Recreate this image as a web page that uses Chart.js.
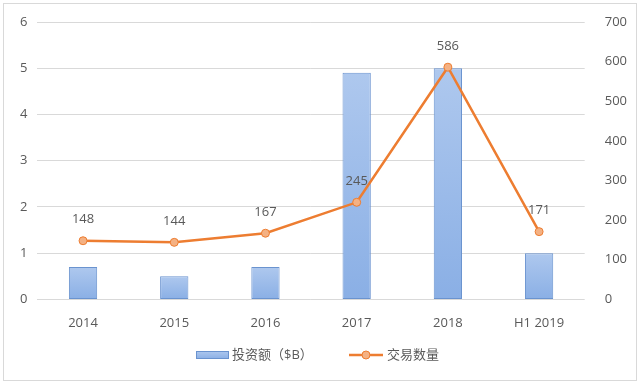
<!DOCTYPE html>
<html>
<head>
<meta charset="utf-8">
<script src="https://cdn.jsdelivr.net/npm/chart.js@4/dist/chart.umd.min.js"></script>
<style>
    body { margin: 0; background: #fff; }
    #wrap { width: 640px; height: 385px; position: relative; }
</style>
</head>
<body>
<div id="wrap"><canvas id="dealChart" width="640" height="385"></canvas></div>
<script>
const years = ['2014', '2015', '2016', '2017', '2018', 'H1 2019'];
const investment = [0.7, 0.5, 0.7, 4.9, 5.0, 1.0];   // 投资额 ($B)
const dealCount = [148, 144, 167, 245, 586, 171];     // 交易数量

const FONT = '"Open Sans", "Noto Sans CJK SC", sans-serif';
const GREY = '#595959';
const ORANGE = '#ED7D31';
const BAR_EDGE = '#6A93CF';

function barGradient(ctx, top, bottom) {
    const g = ctx.createLinearGradient(0, top, 0, bottom);
    g.addColorStop(0, '#AEC8EE');
    g.addColorStop(1, '#8AAFE5');
    return g;
}

// value labels above the line points + frame + legend
const extrasPlugin = {
    id: 'extras',
    afterDatasetsDraw(chart) {
        const ctx = chart.ctx;
        const meta = chart.getDatasetMeta(1);
        ctx.save();
        ctx.font = '13px ' + FONT;
        ctx.fillStyle = GREY;
        ctx.textAlign = 'center';
        ctx.textBaseline = 'middle';
        meta.data.forEach((pt, i) => {
            ctx.fillText(dealCount[i], pt.x, pt.y - 21);
        });
        ctx.restore();
    },
    afterDraw(chart) {
        const ctx = chart.ctx;
        ctx.save();
        ctx.strokeStyle = '#D9D9D9';
        ctx.lineWidth = 1;
        ctx.strokeRect(3.5, 3.5, 633, 377);

        // legend
        ctx.font = '13px ' + FONT;
        ctx.textBaseline = 'middle';
        const y = 355;
        let x = 196;
        ctx.fillStyle = barGradient(ctx, y - 4, y + 4);
        ctx.fillRect(x, y - 4, 33, 8);
        ctx.strokeStyle = BAR_EDGE;
        ctx.strokeRect(x + 0.5, y - 3.5, 32, 7);
        ctx.fillStyle = GREY;
        ctx.fillText('投资额（$B）', x + 36, y);

        x = 349;
        ctx.strokeStyle = ORANGE;
        ctx.lineWidth = 2.5;
        ctx.beginPath();
        ctx.moveTo(x, y);
        ctx.lineTo(x + 34, y);
        ctx.stroke();
        ctx.beginPath();
        ctx.arc(x + 17, y, 4, 0, Math.PI * 2);
        ctx.fillStyle = '#F4B183';
        ctx.fill();
        ctx.lineWidth = 1;
        ctx.stroke();
        ctx.fillStyle = GREY;
        ctx.fillText('交易数量', x + 38, y);
        ctx.restore();
    }
};

const ctx = document.getElementById('dealChart').getContext('2d');
new Chart(ctx, {
    data: {
        labels: years,
        datasets: [
            {
                type: 'bar',
                label: '投资额（$B）',
                data: investment,
                yAxisID: 'y',
                // each bar gets its own light-to-dark gradient
                backgroundColor: (c) => {
                    const scale = c.chart.scales.y;
                    if (!scale || c.raw === undefined) return '#9DBAE8';
                    const top = scale.getPixelForValue(c.raw);
                    const bottom = scale.getPixelForValue(0);
                    if (!isFinite(top) || !isFinite(bottom) || top === bottom) return '#9DBAE8';
                    return barGradient(c.chart.ctx, top, bottom);
                },
                borderColor: BAR_EDGE,
                borderWidth: 1,
                borderSkipped: false,
                categoryPercentage: 1,
                barPercentage: 0.31,
                order: 1
            },
            {
                type: 'line',
                label: '交易数量',
                data: dealCount,
                yAxisID: 'y1',
                borderColor: ORANGE,
                borderWidth: 2.5,
                pointRadius: 4,
                pointBackgroundColor: '#F4B183',
                pointBorderColor: ORANGE,
                pointBorderWidth: 1,
                tension: 0,
                order: 0
            }
        ]
    },
    options: {
        responsive: false,
        animation: false,
        layout: { padding: { left: 10, right: 1, top: 22, bottom: 46 } },
        plugins: {
            legend: { display: false },
            tooltip: { enabled: false }
        },
        scales: {
            x: {
                grid: { display: false },
                border: { display: false },
                ticks: { color: GREY, font: { size: 13, family: FONT }, padding: 8 }
            },
            y: {
                position: 'left',
                min: 0, max: 6,
                ticks: { stepSize: 1, color: GREY, font: { size: 13, family: FONT }, padding: 10 },
                grid: { color: '#D9D9D9', drawTicks: false },
                border: { display: false }
            },
            y1: {
                position: 'right',
                min: 0, max: 700,
                ticks: { stepSize: 100, color: GREY, font: { size: 13, family: FONT }, padding: 12 },
                grid: { display: false },
                border: { display: false }
            }
        }
    },
    plugins: [extrasPlugin]
});
</script>
</body>
</html>
